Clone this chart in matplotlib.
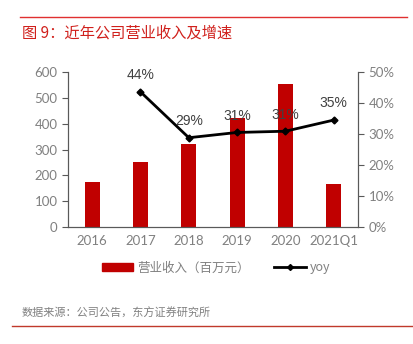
import matplotlib.pyplot as plt
from matplotlib.lines import Line2D
from matplotlib.patches import Patch

plt.rcParams['font.family'] = ['Noto Sans CJK SC', 'DejaVu Sans']

# data
years = ['2016', '2017', '2018', '2019', '2020', '2021Q1']
revenue = [173, 250, 322, 421, 552, 165]          # 百万元
yoy_years = ['2017', '2018', '2019', '2020', '2021Q1']
yoy = [0.436, 0.288, 0.305, 0.309, 0.345]
yoy_labels = ['44%', '29%', '31%', '31%', '35%']

red = '#C00000'
grey = '#808080'

fig = plt.figure(figsize=(4.13, 3.44), dpi=100)
ax = fig.add_axes([0.1646, 0.3401, 0.7022, 0.4506])
x = list(range(len(years)))
ax.bar(x, revenue, width=0.31, color=red)
ax.set_xlim(-0.5, len(years) - 0.5)
ax.set_ylim(0, 600)
ax.set_yticks(range(0, 601, 100))
ax.set_xticks(x)
ax.set_xticklabels(years)

ax2 = ax.twinx()
xi = [years.index(y) for y in yoy_years]
ax2.plot(xi, yoy, color='black', lw=2, marker='D', ms=3.5)
ax2.set_ylim(0, 0.5)
ax2.set_yticks([0, 0.1, 0.2, 0.3, 0.4, 0.5])
ax2.set_yticklabels(['0%', '10%', '20%', '30%', '40%', '50%'])
for xx, v, s in zip(xi, yoy, yoy_labels):
    ax2.annotate(s, (xx, v), xytext=(0, 12), textcoords='offset points',
                 ha='center', va='center', fontsize=10, color='#404040',
                 family=['Liberation Sans', 'DejaVu Sans'])

for a in (ax, ax2):
    a.spines['top'].set_visible(False)
    for sp in ('left', 'right', 'bottom'):
        a.spines[sp].set_color('#595959')
    a.tick_params(labelsize=9.5, labelcolor=grey, color='#595959', length=4)
    for lab in a.get_xticklabels() + a.get_yticklabels():
        lab.set_family(['Lato', 'DejaVu Sans'])
ax.tick_params(axis='x', length=0, pad=6)

handles = [Patch(color=red), Line2D([], [], color='black', lw=2, marker='D', ms=3)]
fig.legend(handles, ['营业收入（百万元）', 'yoy'], loc='center', ncol=2,
           bbox_to_anchor=(0.523, 0.221), frameon=False, fontsize=9,
           labelcolor=grey, handlelength=2.5, handletextpad=0.3, columnspacing=2,
           handleheight=0.5)

fig.text(0.053, 0.904, '图 9：近年公司营业收入及增速', fontsize=11, color='#D0201C',
         va='center', ha='left')
fig.text(0.053, 0.09, '数据来源：公司公告，东方证券研究所', fontsize=8, color=grey,
         va='center', ha='left')
fig.add_artist(Line2D([20 / 413, 407 / 413], [1 - 17 / 344] * 2, color='#E03030', lw=1))
fig.add_artist(Line2D([12 / 413, 1.0], [1 - 326 / 344] * 2, color='#C0392B', lw=1))

fig.savefig('out.png', dpi=100)
